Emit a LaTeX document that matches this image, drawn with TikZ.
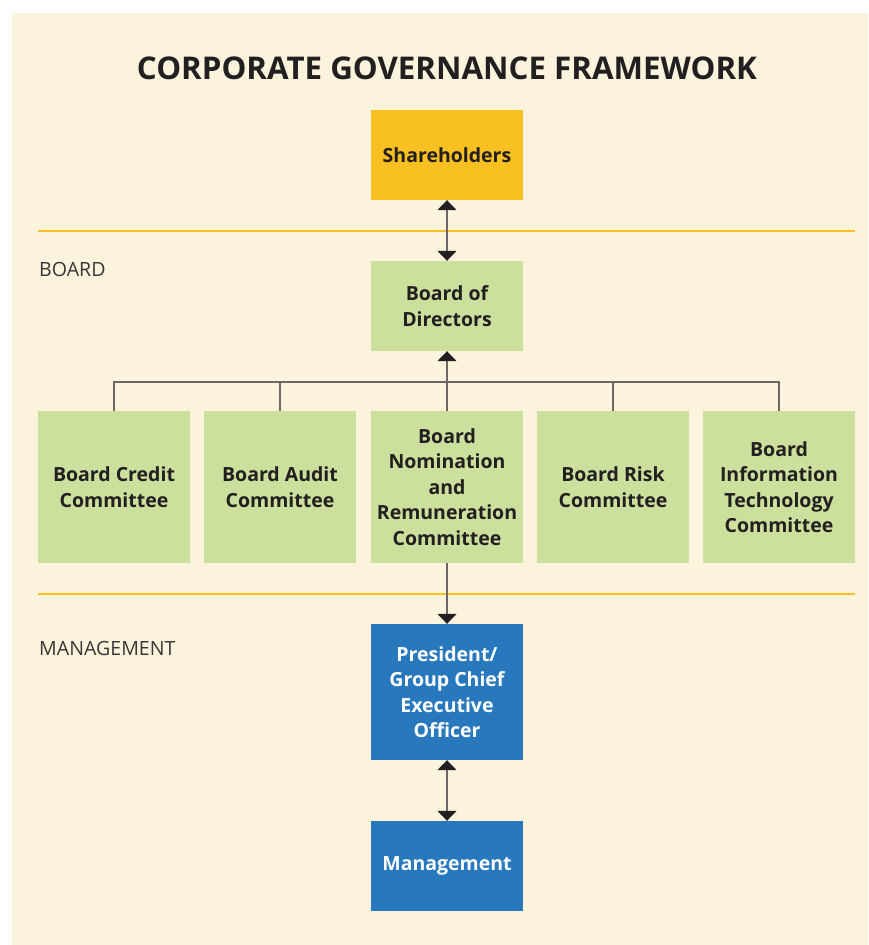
\documentclass[tikz,border=0pt]{standalone}
\usepackage{fontspec}
\setmainfont{Open Sans}
\usetikzlibrary{arrows.meta}
\definecolor{bgcream}{HTML}{FCF3DD}
\definecolor{goldbox}{HTML}{F9C022}
\definecolor{greenbox}{HTML}{CBE09C}
\definecolor{bluebox}{HTML}{2878BE}
\definecolor{darktext}{HTML}{231F20}
\definecolor{labeltext}{HTML}{3A3638}
\definecolor{connline}{HTML}{6D6664}
\definecolor{sepline}{HTML}{F9C022}
\tikzset{
  x=1pt, y=-1pt,
  box/.style={minimum width=152pt, minimum height=90pt, inner sep=0pt, align=center,
    font=\fontsize{19.5}{25.4}\selectfont\bfseries, text=darktext},
  shbox/.style={box, fill=goldbox},
  grbox/.style={box, fill=greenbox},
  combox/.style={box, fill=greenbox, minimum height=152pt},
  blbox/.style={box, fill=bluebox, text=white},
  conn/.style={draw=connline, line width=1.5pt},
  tipend/.style={-{Triangle[width=19pt,length=10pt,color=darktext]}},
  tipboth/.style={{Triangle[width=19pt,length=10pt,color=darktext]}-{Triangle[width=19pt,length=10pt,color=darktext]}},
  sep/.style={draw=sepline, line width=2.6pt},
  sidelabel/.style={anchor=base west, inner sep=0pt, font=\fontsize{19.6}{23}\selectfont, text=labeltext},
}
\begin{document}
\begin{tikzpicture}
\useasboundingbox (0,0) rectangle (868,945);
\fill[bgcream] (12,13) rectangle (868,945);

\node[anchor=base, inner sep=0pt, font=\fontsize{31.3}{36}\selectfont\bfseries, text=darktext] (title) at (447,79) {CORPORATE GOVERNANCE FRAMEWORK};

\coordinate (s1a) at (38,231);
\coordinate (s1b) at (855,231);
\coordinate (s2a) at (38,594);
\coordinate (s2b) at (855,594);
\draw[sep] (s1a) -- (s1b);
\draw[sep] (s2a) -- (s2b);

\node[sidelabel] (lboard) at (39,276) {BOARD};
\node[sidelabel] (lmgmt) at (39,655) {MANAGEMENT};

\node[shbox] (sh) at (447,155) {Shareholders};
\node[grbox] (bod) at (447,306) {Board of\\Directors};

\node[combox] (c1) at (114,487) {Board Credit\\Committee};
\node[combox] (c2) at (280,487) {Board Audit\\Committee};
\node[combox] (c3) at (447,487) {Board\\Nomination\\and\\Remuneration\\Committee};
\node[combox] (c4) at (613,487) {Board Risk\\Committee};
\node[combox] (c5) at (779,487) {Board\\Information\\Technology\\Committee};

\node[blbox, minimum height=136pt] (ceo) at (447,692) {President/\\Group Chief\\Executive\\Officer};
\node[blbox] (mg) at (447,866) {Management};

\coordinate (bar) at (447,382);
\draw[conn] (c1.north) -- (c1.north |- bar) -- (c5.north |- bar) -- (c5.north);
\draw[conn] (c2.north) -- (c2.north |- bar);
\draw[conn] (c4.north) -- (c4.north |- bar);
\draw[conn, tipend] (c3.north) -- (bod.south);
\draw[conn, tipboth] (sh.south) -- (bod.north);
\draw[conn, tipend] (c3.south) -- (ceo.north);
\draw[conn, tipboth] (ceo.south) -- (mg.north);
\end{tikzpicture}
\end{document}
